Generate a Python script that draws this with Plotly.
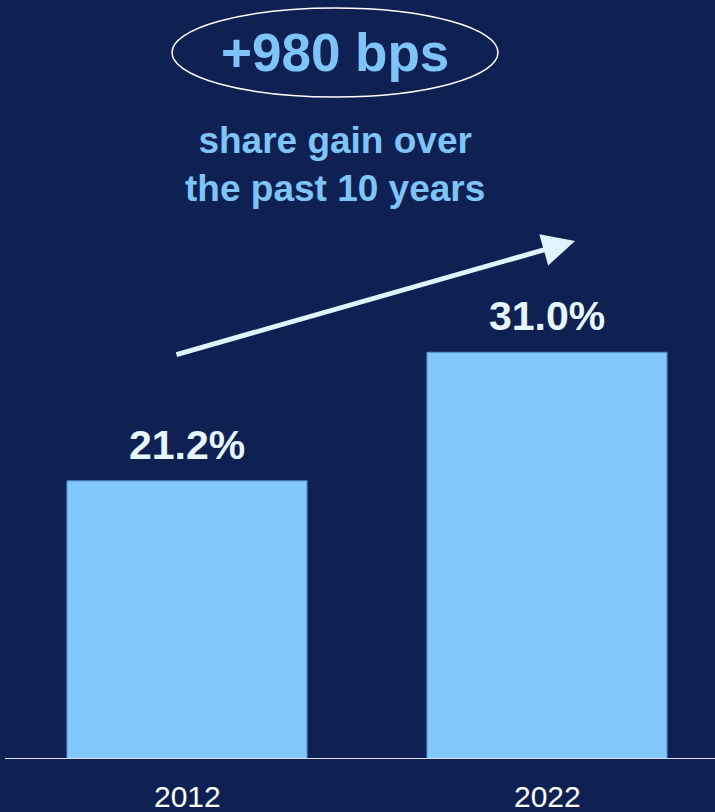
import plotly.graph_objects as go

years = ["2012", "2022"]
share = [21.2, 31.0]
value_labels = ["21.2%", "31.0%"]
headline = "+980 bps"
subtitle = "share gain over<br>the past 10 years"

BG = "#0f2152"
BAR = "#82c7fa"
LIGHT = "#7ec4f8"
WHITE = "#e6f6ff"
FONT = "Arial, Liberation Sans, sans-serif"

W, H = 715, 812
plot_h = 759
px_per_unit = 13.12

fig = go.Figure()
fig.add_trace(go.Bar(
    x=years, y=share, width=0.667,
    marker=dict(color=BAR, line=dict(color="#4f8ccb", width=1)),
    hoverinfo="skip",
))

# value labels above bars and year labels below baseline
for i, (yr, v, lab) in enumerate(zip(years, share, value_labels)):
    fig.add_annotation(x=i, y=v, xref="x", yref="y", text="<b>" + lab + "</b>",
                       showarrow=False, yanchor="middle", yshift=36,
                       font=dict(family=FONT, size=41, color=WHITE))
    fig.add_annotation(x=i, y=-37 / plot_h, xref="x", yref="paper", text=yr,
                       showarrow=False, yanchor="middle",
                       font=dict(family=FONT, size=30, color="white"))

# headline with ellipse
fig.add_shape(type="circle", xref="paper", yref="paper",
              x0=172 / W, x1=498 / W, y0=1 - 97 / plot_h, y1=1 - 8 / plot_h,
              line=dict(color="white", width=1.5))
fig.add_annotation(x=335 / W, y=1 - 53 / plot_h, xref="paper", yref="paper",
                   text="<b>" + headline + "</b>", showarrow=False, yanchor="middle",
                   font=dict(family=FONT, size=53, color=LIGHT))
fig.add_annotation(x=335 / W, y=1 - 165 / plot_h, xref="paper", yref="paper",
                   text="<b>" + subtitle + "</b>", showarrow=False, yanchor="middle",
                   font=dict(family=FONT, size=37, color=LIGHT))

# arrow
fig.add_annotation(x=575 / W, y=1 - 241 / plot_h, xref="paper", yref="paper",
                   ax=175 - 575, ay=355 - 241, text="", showarrow=True,
                   arrowhead=2, arrowsize=1.3, arrowwidth=5, arrowcolor="#e0f4ff")

# baseline
fig.add_shape(type="line", xref="paper", yref="y", x0=5 / W, x1=1, y0=0, y1=0,
              line=dict(color="#d8dde6", width=2))

fig.update_layout(
    width=W, height=H,
    margin=dict(l=0, r=0, t=0, b=H - plot_h),
    paper_bgcolor=BG, plot_bgcolor=BG,
    showlegend=False,
    xaxis=dict(type="category", range=[-187 / 360, 1 + 168 / 360], showticklabels=False,
               showgrid=False, zeroline=False, showline=False, fixedrange=True),
    yaxis=dict(range=[0, plot_h / px_per_unit], showticklabels=False,
               showgrid=False, zeroline=False, showline=False, fixedrange=True),
)

fig.write_html("out.html", config={"displayModeBar": False},
               post_script="document.body.style.margin='0';document.body.style.background='" + BG + "';")
